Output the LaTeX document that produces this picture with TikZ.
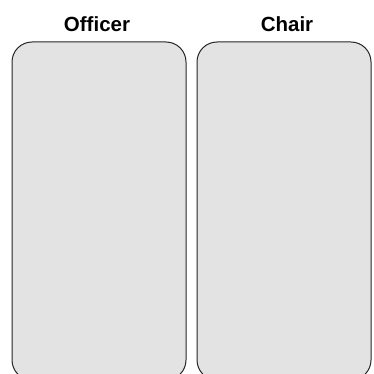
\documentclass[tikz,border=0pt]{standalone}
\usepackage{fontspec}
\setmainfont{Liberation Sans}
\usepackage{tikz}
\usetikzlibrary{positioning}

\begin{document}
\begin{tikzpicture}[x=1pt,y=-1pt,
  column/.style={draw=black!85, fill=black!11, line width=1pt, rounded corners=20pt,
    minimum width=174pt, minimum height=338pt, inner sep=0pt},
  heading/.style={font=\fontsize{20.5}{22}\selectfont\bfseries, inner sep=0pt, anchor=base}]
\useasboundingbox (0,0) rectangle (373,374);
\clip (0,0) rectangle (373,374);
\node[column] (officerbox) at (99,211) {};
\node[column] (chairbox) at (284,211) {};
\node[heading] (officer) at (97,31.7) {Officer};
\node[heading] (chair) at (287,31.7) {Chair};
\end{tikzpicture}
\end{document}
